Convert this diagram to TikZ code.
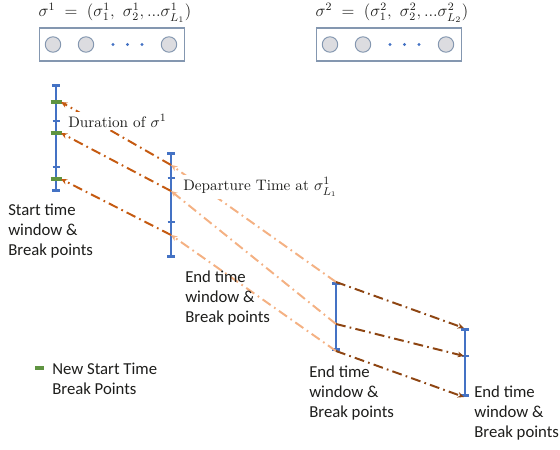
\documentclass[tikz,border=0pt]{standalone}
\usepackage{fontspec}
\usepackage{amsmath}
\setsansfont{Carlito}
\usetikzlibrary{arrows.meta,positioning,calc}
\definecolor{ink}{HTML}{1D1D1B}
\definecolor{cblue}{HTML}{4472C4}
\definecolor{cgreen}{HTML}{5F9441}
\definecolor{rust}{HTML}{C55A11}
\definecolor{peach}{HTML}{F4B183}
\definecolor{umber}{HTML}{8E4512}
\definecolor{slate}{HTML}{8497B0}
\definecolor{stopfill}{HTML}{DCDCE0}
\tikzset{
  route/.style={draw=slate, line width=0.8pt, minimum width=103.5pt, minimum height=23.4pt, inner sep=0pt},
  stop/.style={circle, draw=slate, fill=stopfill, line width=0.7pt, minimum size=11pt, inner sep=0pt},
  dotb/.style={circle, fill=cblue, minimum size=2.2pt, inner sep=0pt},
  bar/.style={{Bar[width=5pt]}-{Bar[width=5pt]}, line width=1.8pt, draw=cblue},
  notch/.style={line width=1.2pt, draw=cblue},
  brk/.style={line width=2.6pt, draw=cgreen},
  chain/.style={line width=1.4pt, dash pattern=on 7pt off 3pt on 1.2pt off 3pt, -{Stealth[length=4.5pt,width=4pt]}},
  back/.style={chain, draw=rust},
  fwd/.style={chain, draw=peach},
  next/.style={chain, draw=umber},
  txt/.style={align=left, inner sep=0pt, text=ink},
  note/.style={font=\rmfamily\fontsize{10.8}{13}\selectfont, fill=white, inner sep=1.5pt, text=ink},
}
\begin{document}
\begin{tikzpicture}[x=0.025cm, y=-0.025cm, font=\sffamily\fontsize{11.9}{14.5}\selectfont]
    \useasboundingbox (0,0) rectangle (560,449);
    % the two routes
    \foreach \cx/\k [count=\i] in {112/1, 389/2} {
      \node[font=\rmfamily\fontsize{12}{14}\selectfont, text=ink] (t\i) at (\cx+3,13)
        {$\sigma^{\k} \;=\; (\sigma^{\k}_1,\ \sigma^{\k}_2, ...\sigma^{\k}_{L_{\k}})$};
      \node[route] (r\i) at (\cx,44.5) {};
      \foreach \dx [count=\j] in {-59,-26,57}
        \node[stop] (r\i-c\j) at (\cx+\dx,44.5) {};
      \foreach \dx [count=\j] in {1,15.5,30}
        \node[dotb] (r\i-d\j) at (\cx+\dx,44.5) {};
    }
    % time windows
    \draw[bar] (56,84) -- (56,192);
    \foreach \y in {121,167} \draw[notch] (52.5,\y) -- (59.5,\y);
    \draw[bar] (171,152) -- (171,258);
    \foreach \y in {178,222} \draw[notch] (167.5,\y) -- (174.5,\y);
    \draw[bar] (336,282) -- (336,351);
    \draw[bar] (465,328) -- (465,397);
    \draw[notch] (461.5,356) -- (468.5,356);
    \foreach \y in {102,133,179} \draw[brk] (50.5,\y) -- (62,\y);
    % break points
    \foreach \y [count=\i] in {102,133,179} \coordinate (g\i) at (61,\y);
    \foreach \y [count=\i] in {165,191,235} \coordinate (e\i) at (171,\y);
    \foreach \y [count=\i] in {282,324,351} \coordinate (f\i) at (336,\y);
    \foreach \y [count=\i] in {328,356,397} \coordinate (h\i) at (464,\y);
    \foreach \i in {1,2,3} {
      \draw[fwd] (f\i) -- (e\i);
      \draw[back] (e\i) -- (g\i);
      \draw[next] (f\i) -- (h\i);
    }
    \node[note, anchor=west] (dur) at (66,121) {Duration of $\sigma^1$};
    \node[note, anchor=west] (dep) at (181,187) {Departure Time at $\sigma^1_{L_1}$};
    % labels
    \node[txt, anchor=west] (lab1) at (8,231) {Start time\\window \&\\Break points};
    \node[txt, anchor=west] (lab2) at (185,298) {End time\\window \&\\Break points};
    \node[txt, anchor=west] (lab3) at (309,393) {End time\\window \&\\Break points};
    \node[txt, anchor=west] (lab4) at (474,413) {End time\\window \&\\Break points};
    \draw[brk] (35,368) -- (44,368);
    \node[txt, anchor=west] (leg) at (52,379) {New Start Time\\Break Points};
  \end{tikzpicture}
\end{document}
